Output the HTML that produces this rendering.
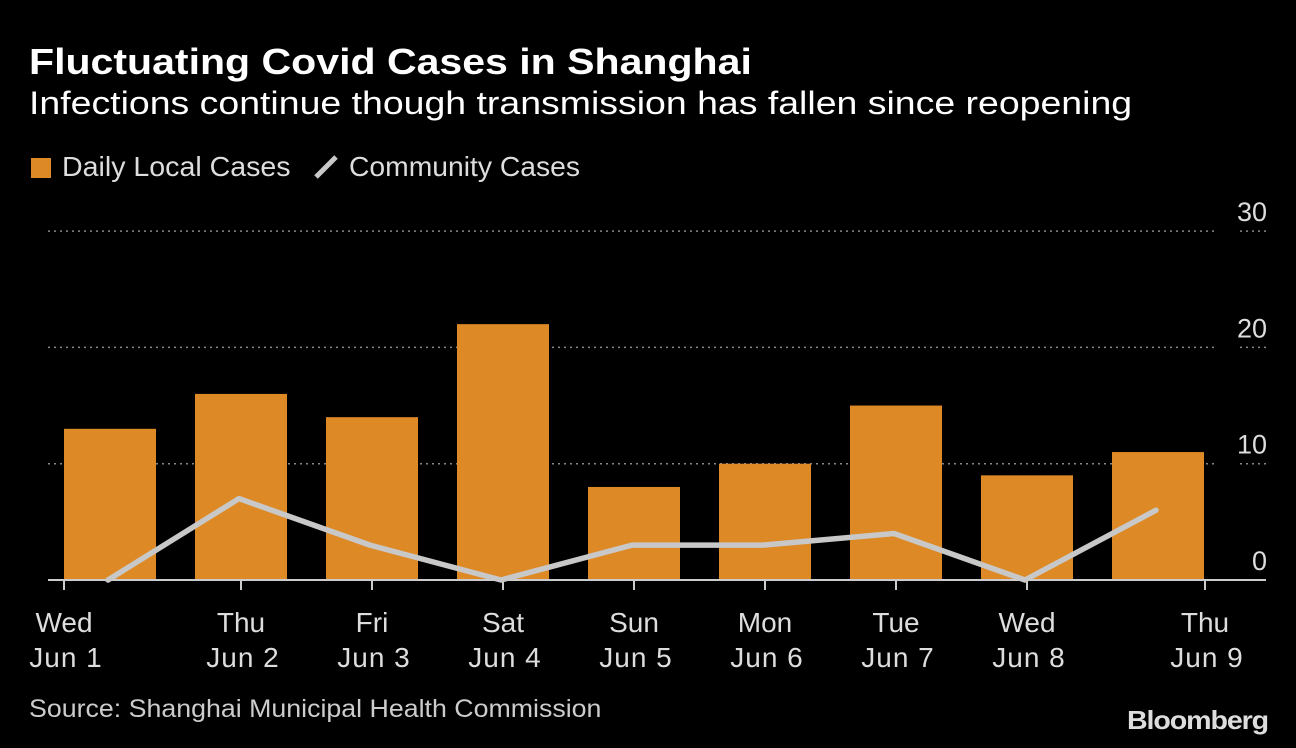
<!DOCTYPE html>
<html><head><meta charset="utf-8"><style>
body{margin:0;background:#000;width:1296px;height:748px;overflow:hidden;font-family:"Liberation Sans",sans-serif;color:#fff}
.t{position:absolute;white-space:nowrap;transform-origin:0 0}
</style></head><body>
<div class="t" style="left:29px;top:41px;font-size:36px;font-weight:bold;transform:scaleX(1.14)">Fluctuating Covid Cases in Shanghai</div>
<div class="t" style="left:29px;top:85px;font-size:32px;transform:scaleX(1.17)">Infections continue though transmission has fallen since reopening</div>
<div class="t" style="left:31px;top:151px;font-size:28px;color:#ddd"><span style="display:inline-block;width:20px;height:20px;background:#dd8a26;vertical-align:-2px;margin-right:11px"></span><span style="display:inline-block;transform:scaleX(1.02);transform-origin:0 0">Daily Local Cases</span></div>
<div class="t" style="left:313px;top:151px;font-size:28px;color:#ddd"><svg width="26" height="26" style="vertical-align:-4px;margin-right:10px"><line x1="3" y1="23" x2="23" y2="3" stroke="#c8c8c8" stroke-width="5"/></svg><span style="display:inline-block;transform:scaleX(1.01);transform-origin:0 0">Community Cases</span></div>
<svg id="c" width="1296" height="748" style="position:absolute;left:0;top:0"></svg>
<div class="t" style="left:29px;top:695px;font-size:25px;color:#ccc;transform:scaleX(1.07)">Source: Shanghai Municipal Health Commission</div>
<div class="t" style="left:1127px;top:705px;font-size:26px;font-weight:bold;color:#ddd;letter-spacing:-1px;transform:scaleX(1.1)">Bloomberg</div>
<script>
const days=["Wed","Thu","Fri","Sat","Sun","Mon","Tue","Wed","Thu"];
const dates=["Jun 1","Jun 2","Jun 3","Jun 4","Jun 5","Jun 6","Jun 7","Jun 8","Jun 9"];
const dailyCases=[13,16,14,22,8,10,15,9,11];
const communityCases=[0,7,3,0,3,3,4,0,6];
const yTicks=[0,10,20,30];
const NS="http://www.w3.org/2000/svg",svg=document.getElementById('c');
const y=v=>580-v*11.63;
const xc=i=>110+i*131;
function mk(t,a){const e=document.createElementNS(NS,t);for(const k in a)e.setAttribute(k,a[k]);svg.appendChild(e);return e;}
yTicks.forEach(v=>{
 if(v>0){const g=mk('line',{x1:48,x2:1216,y1:y(v),y2:y(v),stroke:'#888','stroke-width':1.5,'stroke-dasharray':'2,4'});
 
 const g2=mk('line',{x1:1240,x2:1266,y1:y(v),y2:y(v),stroke:'#888','stroke-width':1.5,'stroke-dasharray':'2,4'});
 }
 const t=mk('text',{x:1267,y:y(v)-10,'text-anchor':'end','font-size':27,fill:'#ddd'});t.textContent=v;
 
});
dailyCases.forEach((v,i)=>{const b=mk('rect',{x:xc(i)-46,y:y(v),width:92,height:580-y(v),fill:'#dd8a26'});
 });
const base=mk('line',{x1:48,x2:1266,y1:580,y2:580,stroke:'#ccc','stroke-width':2});

const tx=i=>i==0?64:i==8?1205:xc(i);
days.forEach((d,i)=>{
 const tk=mk('line',{x1:tx(i),x2:tx(i),y1:580,y2:590,stroke:'#ccc','stroke-width':2});
 
 const t=mk('text',{x:tx(i),y:632,'text-anchor':'middle','font-size':28,fill:'#ddd'});t.textContent=d;
 
 const t2=mk('text',{x:tx(i)+2,y:667,'text-anchor':'middle','font-size':28,'letter-spacing':1,fill:'#ddd'});t2.textContent=dates[i];
 
});
const ln=mk('polyline',{points:communityCases.map((v,i)=>xc(i)-2+','+y(v)).join(' '),fill:'none',stroke:'#c8c8c8','stroke-width':5.5,'stroke-linejoin':'round','stroke-linecap':'round'});

</script>
</body></html>
